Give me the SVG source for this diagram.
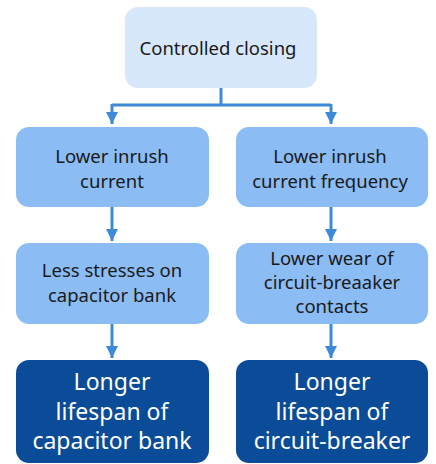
<svg xmlns="http://www.w3.org/2000/svg" width="436" height="464" viewBox="0 0 436 464">
<style>
.light{fill:#d7e7fc}
.mid{fill:#8bbcf4}
.dark{fill:#0b4c98}
.t{font-family:"Noto Sans","DejaVu Sans",sans-serif;font-size:18.5px;fill:#1a1a1a;text-anchor:middle}
.tw{font-family:"Noto Sans","DejaVu Sans",sans-serif;font-size:23px;fill:#ffffff;text-anchor:middle}
.c{stroke:#3f8ad8;stroke-width:3;fill:none}
</style>
<defs>
<marker id="ah" viewBox="0 0 10 10" refX="10" refY="5" markerWidth="4" markerHeight="4" orient="auto" markerUnits="strokeWidth">
<path d="M0,0 L10,5 L0,10 z" fill="#3f8ad8"/>
</marker>
</defs>
<rect width="436" height="464" fill="#ffffff"/>
<g id="connectors">
<path class="c" d="M221,88 V105"/>
<path class="c" d="M112,105 H331"/>
<path class="c" d="M112,104 V124" marker-end="url(#ah)"/>
<path class="c" d="M331,104 V124" marker-end="url(#ah)"/>
<path class="c" d="M112,207 V241" marker-end="url(#ah)"/>
<path class="c" d="M331,207 V241" marker-end="url(#ah)"/>
<path class="c" d="M112,324 V358" marker-end="url(#ah)"/>
<path class="c" d="M331,324 V358" marker-end="url(#ah)"/>
</g>
<g id="n-controlled">
<rect class="light" x="125" y="7" width="192" height="81" rx="13"/>
<text class="t" x="218" y="55">Controlled closing</text>
</g>
<g id="n-lower-inrush">
<rect class="mid" x="16" y="127" width="193" height="80" rx="13"/>
<text class="t" x="112" y="163">Lower inrush</text>
<text class="t" x="112" y="188">current</text>
</g>
<g id="n-lower-freq">
<rect class="mid" x="236" y="127" width="192" height="80" rx="13"/>
<text class="t" x="330" y="163">Lower inrush</text>
<text class="t" x="330" y="188">current frequency</text>
</g>
<g id="n-less-stress">
<rect class="mid" x="16" y="243" width="193" height="81" rx="13"/>
<text class="t" x="112" y="277">Less stresses on</text>
<text class="t" x="112" y="302">capacitor bank</text>
</g>
<g id="n-lower-wear">
<rect class="mid" x="236" y="243" width="192" height="81" rx="13"/>
<text class="t" x="332" y="265">Lower wear of</text>
<text class="t" x="332" y="289">circuit-breaaker</text>
<text class="t" x="332" y="313">contacts</text>
</g>
<g id="n-life-cap">
<rect class="dark" x="16" y="360" width="193" height="103" rx="13"/>
<text class="tw" x="112" y="390">Longer</text>
<text class="tw" x="112" y="420">lifespan of</text>
<text class="tw" x="112" y="449">capacitor bank</text>
</g>
<g id="n-life-cb">
<rect class="dark" x="236" y="360" width="192" height="103" rx="13"/>
<text class="tw" x="332" y="390">Longer</text>
<text class="tw" x="332" y="420">lifespan of</text>
<text class="tw" x="332" y="449">circuit-breaker</text>
</g>
</svg>
